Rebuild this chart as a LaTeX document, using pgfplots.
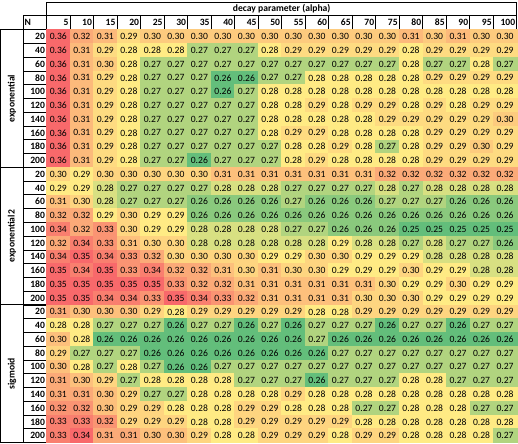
\documentclass[border=0pt]{standalone}
\usepackage{fontspec}
\setmainfont{Carlito}
\usepackage{pgfplots}
\usepackage{pgfplotstable}
\pgfplotsset{compat=1.18}

\newcommand\cellfont{\fontsize{7.2}{8.6}\selectfont}

% one table cell (17.6pt x 10.3pt)
\pgfdeclareplotmark{cell}{%
  \pgfpathrectangle{\pgfpoint{-8.8pt}{-5.15pt}}{\pgfpoint{17.6pt}{10.3pt}}%
  \pgfusepathqfillstroke}

\pgfplotstableread{
N c5 c10 c15 c20 c25 c30 c35 c40 c45 c50 c55 c60 c65 c70 c75 c80 c85 c90 c95 c100
20  0.36 0.32 0.31 0.29 0.30 0.30 0.30 0.30 0.30 0.30 0.30 0.30 0.30 0.30 0.30 0.31 0.30 0.31 0.30 0.30
40  0.36 0.31 0.29 0.28 0.28 0.28 0.27 0.27 0.27 0.28 0.29 0.29 0.29 0.29 0.29 0.28 0.29 0.29 0.29 0.29
60  0.36 0.31 0.30 0.28 0.27 0.27 0.27 0.27 0.27 0.27 0.27 0.27 0.27 0.27 0.27 0.28 0.27 0.27 0.28 0.27
80  0.36 0.31 0.29 0.28 0.27 0.27 0.27 0.26 0.26 0.27 0.27 0.28 0.28 0.28 0.28 0.28 0.29 0.29 0.29 0.29
100 0.36 0.31 0.29 0.28 0.27 0.27 0.27 0.26 0.27 0.28 0.28 0.28 0.28 0.28 0.28 0.28 0.28 0.28 0.28 0.28
120 0.36 0.31 0.29 0.28 0.27 0.27 0.27 0.27 0.27 0.28 0.28 0.29 0.28 0.29 0.29 0.28 0.29 0.28 0.29 0.29
140 0.36 0.31 0.29 0.28 0.27 0.27 0.27 0.27 0.27 0.28 0.28 0.28 0.28 0.28 0.29 0.29 0.29 0.29 0.29 0.30
160 0.36 0.31 0.29 0.28 0.27 0.27 0.27 0.27 0.27 0.28 0.29 0.29 0.28 0.28 0.28 0.28 0.29 0.29 0.29 0.29
180 0.36 0.31 0.29 0.28 0.27 0.27 0.27 0.27 0.27 0.27 0.28 0.28 0.29 0.28 0.27 0.28 0.29 0.29 0.30 0.29
200 0.36 0.31 0.29 0.28 0.27 0.27 0.26 0.27 0.27 0.27 0.28 0.29 0.28 0.28 0.28 0.28 0.29 0.29 0.29 0.29
}\expdata

\pgfplotstableread{
N c5 c10 c15 c20 c25 c30 c35 c40 c45 c50 c55 c60 c65 c70 c75 c80 c85 c90 c95 c100
20  0.30 0.29 0.30 0.30 0.30 0.30 0.30 0.31 0.31 0.31 0.31 0.31 0.31 0.31 0.32 0.32 0.32 0.32 0.32 0.32
40  0.29 0.29 0.28 0.27 0.27 0.27 0.27 0.28 0.28 0.28 0.27 0.27 0.27 0.27 0.28 0.27 0.28 0.28 0.28 0.28
60  0.31 0.30 0.28 0.27 0.27 0.27 0.26 0.26 0.26 0.26 0.27 0.26 0.26 0.26 0.27 0.27 0.27 0.26 0.26 0.26
80  0.32 0.32 0.29 0.30 0.29 0.29 0.26 0.26 0.26 0.26 0.26 0.26 0.26 0.26 0.26 0.26 0.26 0.26 0.26 0.26
100 0.34 0.32 0.33 0.30 0.29 0.29 0.28 0.28 0.28 0.28 0.27 0.27 0.26 0.26 0.26 0.25 0.25 0.25 0.25 0.25
120 0.32 0.34 0.33 0.31 0.30 0.30 0.28 0.28 0.28 0.28 0.28 0.28 0.29 0.28 0.28 0.27 0.28 0.27 0.27 0.26
140 0.34 0.35 0.34 0.33 0.32 0.30 0.30 0.30 0.30 0.29 0.29 0.30 0.30 0.29 0.29 0.29 0.28 0.28 0.28 0.28
160 0.35 0.34 0.35 0.33 0.34 0.32 0.32 0.31 0.30 0.31 0.30 0.30 0.29 0.29 0.29 0.30 0.29 0.29 0.28 0.28
180 0.35 0.35 0.35 0.35 0.35 0.33 0.32 0.32 0.31 0.31 0.31 0.31 0.31 0.31 0.30 0.29 0.29 0.30 0.29 0.29
200 0.35 0.35 0.34 0.34 0.33 0.35 0.34 0.33 0.32 0.31 0.31 0.31 0.31 0.30 0.30 0.30 0.29 0.29 0.29 0.29
}\exptwodata

\pgfplotstableread{
N c5 c10 c15 c20 c25 c30 c35 c40 c45 c50 c55 c60 c65 c70 c75 c80 c85 c90 c95 c100
20  0.31 0.30 0.30 0.30 0.29 0.28 0.29 0.29 0.29 0.29 0.29 0.28 0.28 0.29 0.29 0.29 0.29 0.29 0.29 0.29
40  0.28 0.28 0.27 0.27 0.27 0.26 0.27 0.27 0.26 0.27 0.26 0.27 0.27 0.27 0.26 0.27 0.27 0.26 0.27 0.27
60  0.30 0.28 0.26 0.26 0.26 0.26 0.26 0.26 0.26 0.26 0.26 0.27 0.26 0.26 0.26 0.26 0.26 0.26 0.26 0.26
80  0.29 0.27 0.27 0.27 0.26 0.26 0.26 0.26 0.26 0.26 0.26 0.26 0.27 0.27 0.27 0.27 0.27 0.27 0.27 0.27
100 0.30 0.28 0.27 0.28 0.27 0.26 0.26 0.27 0.27 0.27 0.27 0.27 0.27 0.27 0.27 0.27 0.27 0.27 0.27 0.27
120 0.31 0.30 0.29 0.27 0.28 0.28 0.28 0.28 0.27 0.27 0.27 0.26 0.27 0.27 0.27 0.28 0.28 0.27 0.27 0.27
140 0.31 0.31 0.30 0.29 0.27 0.27 0.28 0.28 0.28 0.28 0.29 0.28 0.28 0.28 0.28 0.28 0.28 0.28 0.28 0.28
160 0.32 0.32 0.30 0.29 0.29 0.28 0.28 0.28 0.29 0.29 0.28 0.28 0.28 0.27 0.27 0.28 0.28 0.28 0.27 0.27
180 0.33 0.33 0.32 0.29 0.29 0.29 0.28 0.28 0.29 0.29 0.29 0.29 0.29 0.28 0.28 0.28 0.28 0.28 0.28 0.28
200 0.33 0.34 0.31 0.31 0.30 0.30 0.29 0.28 0.28 0.29 0.29 0.29 0.28 0.29 0.29 0.28 0.28 0.28 0.28 0.27
}\sigdata

% #1 table, #2 first row, #3 min, #4 median, #5 max of the block
% colour scale: min -> 0 (green), median -> 0.5 (yellow), max -> 1 (red)
\newcommand\groupcells[5]{%
  \pgfplotsinvokeforeach{5,10,...,100}{%
    \addplot[scatter, only marks, mark=cell,
      point meta={0.5*min(\thisrow{c##1}-#3,#4-#3)/(#4-#3)+0.5*max(\thisrow{c##1}-#4,0)/(#5-#4)},
      scatter/use mapped color={draw=mapped color, fill=mapped color}]
      table[x expr=##1/5-1, y expr=\coordindex+#2] {#1};
  }%
}
% the printed values
\newcommand\grouplabels[2]{%
  \pgfplotsinvokeforeach{5,10,...,100}{%
    \addplot[draw=none, mark=none, point meta=explicit, nodes near coords]
      table[x expr=##1/5-1, y expr=\coordindex+#2, meta=c##1] {#1};
  }%
}

\begin{document}
\begin{tikzpicture}[font=\cellfont]
\begin{axis}[
    x=17.6pt, y=10.3pt, y dir=reverse,
    xmin=-2.45, xmax=19.55, ymin=-2.6, ymax=29.55,
    hide axis, clip=false,
    colormap={rg}{rgb255(0cm)=(99,190,123); rgb255(1cm)=(255,235,132); rgb255(2cm)=(248,105,107)},
    point meta min=0, point meta max=1,
    /pgf/number format/assume math mode=true,
    nodes near coords style={anchor=center, text=black, inner sep=0pt,
        /pgf/number format/.cd, fixed, fixed zerofill, precision=2},
]

\groupcells{\expdata}{0}{0.26}{0.28}{0.36}
\groupcells{\exptwodata}{10}{0.25}{0.29}{0.35}
\groupcells{\sigdata}{20}{0.26}{0.28}{0.34}
\grouplabels{\expdata}{0}
\grouplabels{\exptwodata}{10}
\grouplabels{\sigdata}{20}

% page size
\path (axis cs:-2.48,-2.62) rectangle (axis cs:19.55,29.58);

% header
\draw[line width=0.8pt] (axis cs:-0.5,-2.5) rectangle (axis cs:19.5,-1.55);
\node[font=\cellfont\bfseries] at (axis cs:9.5,-2.02) {decay parameter (alpha)};
\draw[line width=0.5pt] (axis cs:-1.5,-1.55) rectangle (axis cs:19.5,-0.5);
\pgfplotsinvokeforeach{0,...,19}{
  \draw[line width=0.5pt] (axis cs:#1-0.5,-1.55) -- (axis cs:#1-0.5,-0.5);
}
\node[anchor=west, font=\cellfont\bfseries, inner sep=1pt] at (axis cs:-1.5,-1.02) {N};
\pgfplotsinvokeforeach{5,10,...,100}{
  \node[anchor=east, font=\cellfont\bfseries, inner sep=1pt] at (axis cs:#1/5-0.5,-1.02) {#1};
}

% row labels
\pgfplotsinvokeforeach{0,...,28}{
  \draw[line width=0.5pt] (axis cs:-1.5,#1+0.5) -- (axis cs:-0.5,#1+0.5);
}
\pgfplotsinvokeforeach{0,...,29}{
  \node[anchor=east, font=\cellfont\bfseries, inner sep=1pt] at (axis cs:-0.5,#1)
    {\pgfmathparse{int(mod(#1,10)*20+20)}\pgfmathresult};
}

% group labels
\node[rotate=90, font=\cellfont\bfseries] at (axis cs:-1.97,4.5) {exponential};
\node[rotate=90, font=\cellfont\bfseries] at (axis cs:-1.97,14.5) {exponential2};
\node[rotate=90, font=\cellfont\bfseries] at (axis cs:-1.97,24.5) {sigmoid};

% frame
\draw[line width=0.5pt] (axis cs:-1.5,-0.5) -- (axis cs:-1.5,29.5);
\draw[line width=0.8pt] (axis cs:-0.5,-1.55) -- (axis cs:-0.5,29.5);
\draw[line width=0.8pt] (axis cs:-2.45,9.5) -- (axis cs:19.5,9.5);
\draw[line width=0.8pt] (axis cs:-2.45,19.5) -- (axis cs:19.5,19.5);
\draw[line width=0.8pt] (axis cs:-2.45,-0.5) rectangle (axis cs:19.5,29.5);

\end{axis}
\end{tikzpicture}
\end{document}
